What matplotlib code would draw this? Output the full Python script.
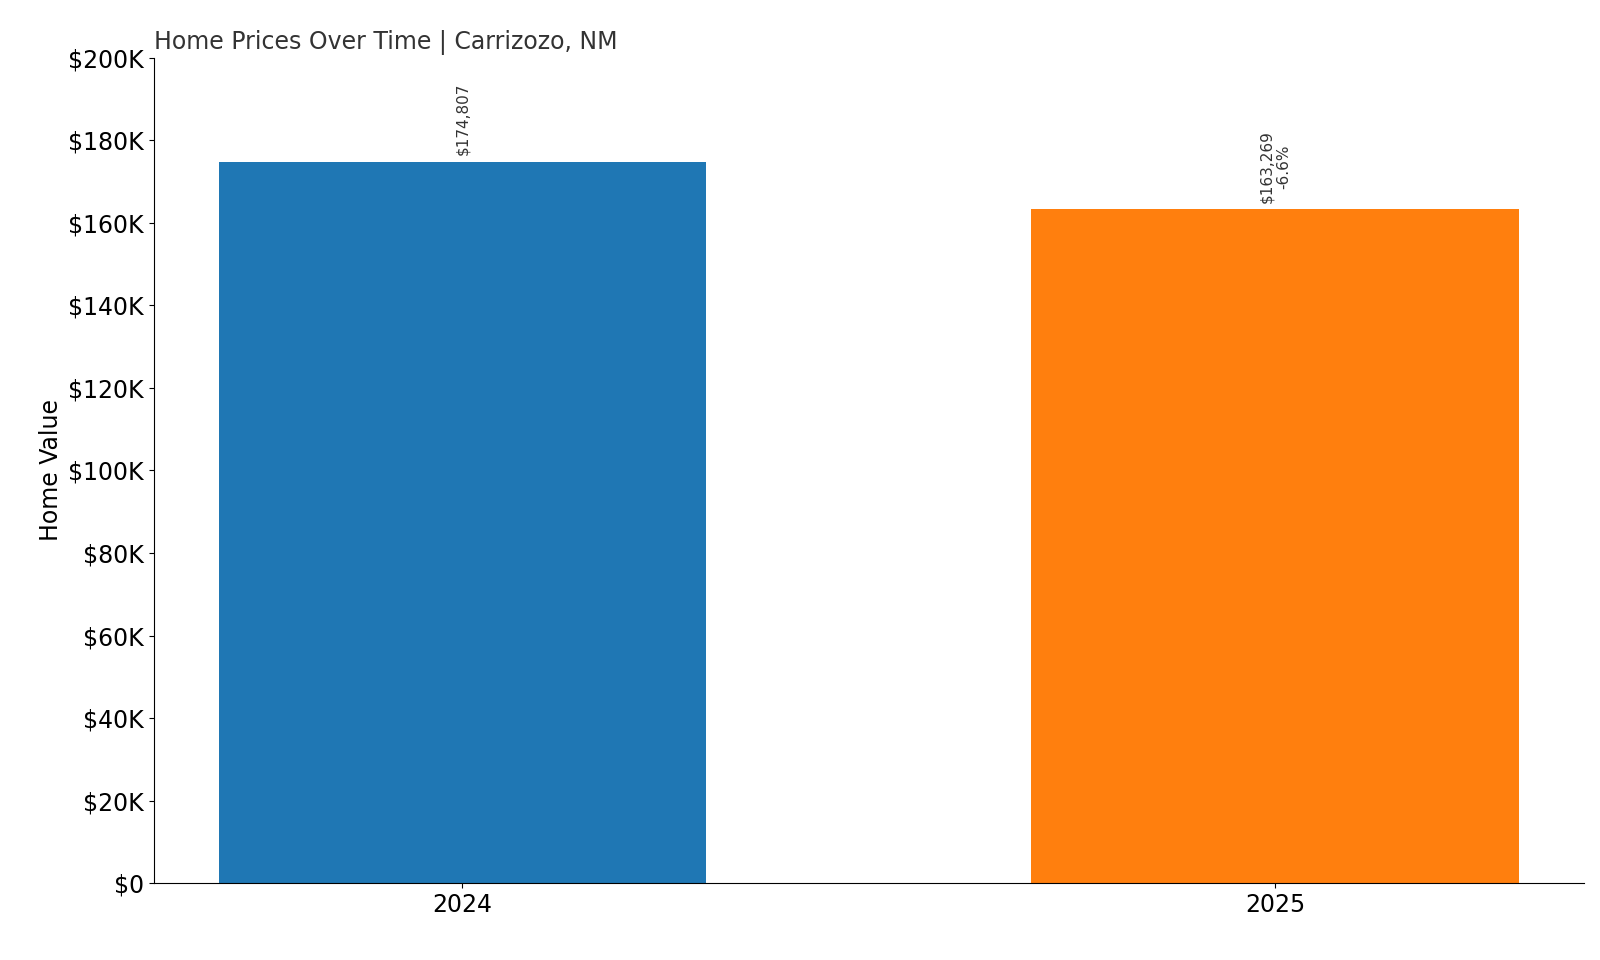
import matplotlib
matplotlib.use("Agg")
import matplotlib.pyplot as plt
from matplotlib.ticker import FuncFormatter

years = ["2024", "2025"]
values = [174807, 163269]
labels = ["$174,807", "$163,269\n-6.6%"]
colors = ["#1f77b4", "#ff7f0e"]

fig, ax = plt.subplots(figsize=(16, 9.6), dpi=100)
x = range(len(years))
bars = ax.bar(x, values, color=colors, width=0.6)
for xi, v, l in zip(x, values, labels):
    ax.text(xi, v + 1500, l, rotation=90, ha="center", va="bottom", fontsize=11, color="#333333")
ax.set_xticks(list(x))
ax.set_xticklabels(years, fontsize=17)
ax.set_ylim(0, 200000)
ax.set_yticks(range(0, 200001, 20000))
ax.yaxis.set_major_formatter(FuncFormatter(lambda v, p: f"${int(v/1000)}K" if v else "$0"))
ax.tick_params(axis="y", labelsize=17)
ax.set_ylabel("Home Value", fontsize=17)
ax.set_title("Home Prices Over Time | Carrizozo, NM", loc="left", fontsize=17, color="#333333")
ax.spines["top"].set_visible(False)
ax.spines["right"].set_visible(False)
ax.set_xlim(-0.38, 1.38)
plt.subplots_adjust(left=0.096, right=0.99, top=0.94, bottom=0.08)
fig.savefig("out.png")
